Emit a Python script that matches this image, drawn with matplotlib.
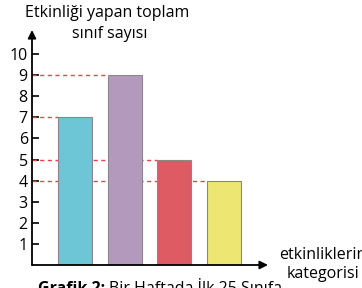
import matplotlib
matplotlib.use("Agg")
import matplotlib.pyplot as plt

# data
categories = ["A", "B", "C", "D"]
values = [7, 9, 5, 4]
bar_colors = ["#6cc6d6", "#b39abd", "#de5b64", "#ede672"]
yticks = list(range(1, 11))

plt.rcParams["font.family"] = ["Open Sans", "DejaVu Sans"]

W, H = 362, 288
fig = plt.figure(figsize=(W / 100, H / 100), dpi=100)

# axes box in pixel terms: origin at (32, 265), top at y=30, right at x=268
x0, y0, x1, y1 = 32, 265, 268, 30
ax = fig.add_axes([x0 / W, (H - y0) / H, (x1 - x0) / W, (y0 - y1) / H])

unit = 21.1
ax.set_ylim(0, (y0 - y1) / unit)
step = 49.7
xmin = -(75 - x0) / step
xmax = 3 + (x1 - 224) / step
ax.set_xlim(xmin, xmax)

xs = list(range(len(categories)))
bw = 0.68
ax.bar(xs, values, width=bw, color=bar_colors, edgecolor="#888888",
       linewidth=0.8, zorder=3)

# red guide lines to bar tops
for x, v in zip(xs, values):
    ax.hlines(v, xmin, x - bw / 2, colors="#e8434c", linestyles=(0, (3, 2.5)),
              linewidth=1.0, zorder=2)

for s in ["top", "right", "left", "bottom"]:
    ax.spines[s].set_visible(False)

# axes with arrow heads
ax.annotate("", xy=(0, 1.0), xytext=(0, 0), xycoords="axes fraction",
            arrowprops=dict(arrowstyle="-|>", color="black", lw=1.3,
                            mutation_scale=12, shrinkA=0, shrinkB=0))
ax.annotate("", xy=(1.0, 0), xytext=(0, 0), xycoords="axes fraction",
            arrowprops=dict(arrowstyle="-|>", color="black", lw=1.3,
                            mutation_scale=12, shrinkA=0, shrinkB=0))

ax.set_yticks(yticks)
ax.set_yticklabels([str(t) for t in yticks])
ax.tick_params(axis="y", direction="in", length=5, width=1.2, pad=3,
               labelsize=11.5)
ax.set_xticks([])

fs = 11.5
fig.text(107 / W, 1 - 13 / H, "Etkinliği yapan toplam", ha="center",
         va="center", fontsize=fs)
fig.text(110 / W, 1 - 34 / H, "sınıf sayısı", ha="center", va="center",
         fontsize=fs)
fig.text(323 / W, 1 - 255 / H, "etkinliklerin", ha="center", va="center",
         fontsize=fs)
fig.text(323 / W, 1 - 274 / H, "kategorisi", ha="center", va="center",
         fontsize=fs)

# caption (cut off at the bottom edge as in the reference)
cap = fig.text(38 / W, 1 - 281 / H, "Grafik 2:", ha="left", va="top",
               fontsize=fs, fontweight="bold")
r = fig.canvas.get_renderer()
bb = cap.get_window_extent(renderer=r)
fig.text((bb.x1 + 4) / W, 1 - 281 / H, "Bir Haftada İlk 25 Sınıfa",
         ha="left", va="top", fontsize=fs)

fig.savefig("out.png", dpi=100)
